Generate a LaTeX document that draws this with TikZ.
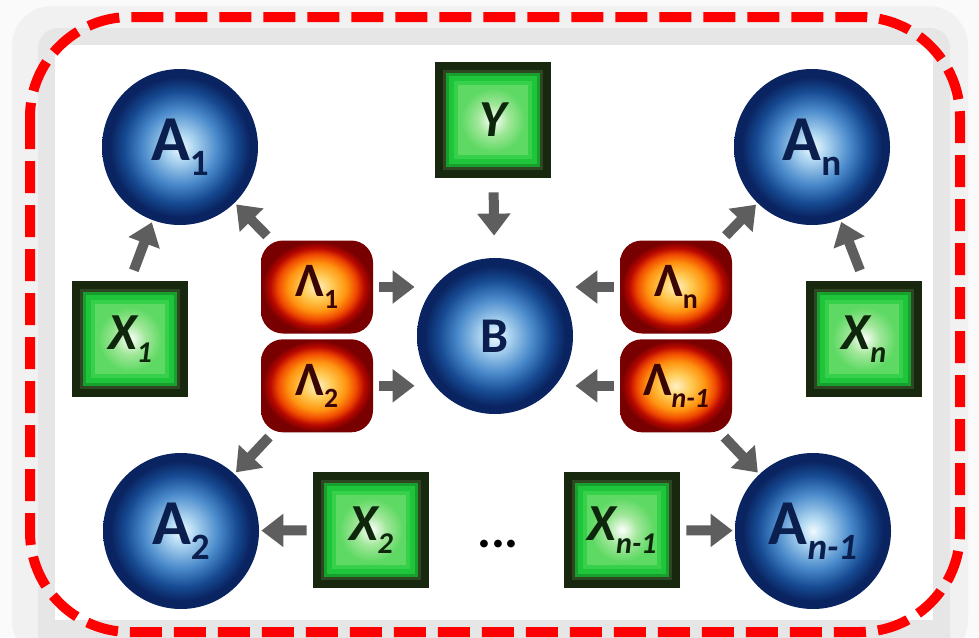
\documentclass[tikz,border=0pt]{standalone}
\usepackage{fontspec}
\setsansfont{Carlito}
\usepackage{graphicx}
\usepackage{tikz}
\usetikzlibrary{arrows.meta,positioning,calc}
\definecolor{netNavy}{HTML}{0A2461}
\definecolor{netOrbBlue}{HTML}{164A92}
\definecolor{netOrbMid}{HTML}{4A8ACB}
\definecolor{netOrbLight}{HTML}{B4DAF3}
\definecolor{netOrbCore}{HTML}{F2F9FE}
\definecolor{netOrbText}{HTML}{0B1F4F}
\definecolor{netLamDeep}{HTML}{780000}
\definecolor{netLamRed}{HTML}{B80800}
\definecolor{netLamFlame}{HTML}{F04A00}
\definecolor{netLamOrange}{HTML}{FF9410}
\definecolor{netLamGold}{HTML}{FFC850}
\definecolor{netLamCore}{HTML}{FFF1C4}
\definecolor{netLamText}{HTML}{3A0505}
\definecolor{netXDark}{HTML}{18280E}
\definecolor{netXOlive}{HTML}{2E4621}
\definecolor{netXOne}{HTML}{17A02D}
\definecolor{netXTwo}{HTML}{1EC53B}
\definecolor{netXThree}{HTML}{36D04A}
\definecolor{netXFour}{HTML}{5ED963}
\definecolor{netXLight}{HTML}{A2E79A}
\definecolor{netXText}{HTML}{0E260C}
\definecolor{netArrow}{HTML}{5E5E5E}
\definecolor{netRed}{HTML}{FF0000}
\definecolor{netShadeA}{HTML}{FAFAFA}
\definecolor{netShadeB}{HTML}{F1F1F1}
\definecolor{netShadeC}{HTML}{E6E6E6}
\pgfdeclareradialshading{netOrbShade}{\pgfpoint{0bp}{0bp}}{color(0bp)=(netOrbCore); color(4bp)=(netOrbLight); color(12bp)=(netOrbMid); color(18bp)=(netOrbBlue); color(22.5bp)=(netNavy); color(25bp)=(netNavy); color(50bp)=(netNavy)}
\pgfdeclareradialshading{netLamShade}{\pgfpoint{0bp}{0bp}}{color(0bp)=(netLamCore); color(7bp)=(netLamGold); color(13bp)=(netLamOrange); color(17.5bp)=(netLamFlame); color(21bp)=(netLamRed); color(24.5bp)=(netLamDeep); color(25bp)=(netLamDeep); color(50bp)=(netLamDeep)}
\pgfdeclareradialshading{netXShade}{\pgfpoint{0bp}{0bp}}{color(0bp)=(white); color(12bp)=(netXLight); color(25bp)=(netXFour); color(50bp)=(netXFour)}
\newcommand{\sbx}[1]{\raisebox{-0.24em}{\scalebox{0.58}{#1}}}

\begin{document}
\begin{tikzpicture}[
  x=0.5pt, y=-0.5pt,
  orb/.style   ={circle,minimum size=78pt,inner sep=0pt,shade,shading=netOrbShade,text=netOrbText,
                 font=\sffamily\bfseries\fontsize{32}{34}\selectfont},
  lambox/.style={rectangle,rounded corners=11pt,minimum width=56pt,minimum height=46.5pt,inner sep=0pt,
                 shade,shading=netLamShade,text=netLamText,font=\sffamily\bfseries\fontsize{24}{26}\selectfont},
  xbox/.style  ={rectangle,minimum size=58pt,inner sep=0pt,fill=netXDark,text=netXText,
                 font=\sffamily\bfseries\itshape\fontsize{26}{28}\selectfont,
                 path picture={
                   \fill[netXOlive] ($(path picture bounding box.south west)+(4pt,4pt)$) rectangle ($(path picture bounding box.north east)-(4pt,4pt)$);
                   \foreach \ins/\col in {5.5pt/netXOne,7pt/netXTwo,9.5pt/netXThree,11.5pt/netXFour}
                     \fill[\col] ($(path picture bounding box.south west)+(\ins,\ins)$) rectangle ($(path picture bounding box.north east)-(\ins,\ins)$);
                   \shade[shading=netXShade] ($(path picture bounding box.south west)+(13pt,13pt)$) rectangle ($(path picture bounding box.north east)-(13pt,13pt)$);
                 }},
  arrx/.style  ={-{Triangle[width=16pt,length=11pt]},draw=netArrow,line width=5pt,shorten <=3pt,shorten >=1pt}
]
\useasboundingbox (0,0) rectangle (979,637);

% backdrop and frame
\fill[netShadeA] (0,0) rectangle (979,637);
\fill[netShadeB,rounded corners=20pt] (12,6) rectangle (968,660);
\fill[netShadeC,rounded corners=10pt] (38,28) rectangle (950,660);
\fill[white] (55,45) rectangle (933,620);
\draw[netRed,line width=5pt,dash pattern=on 16pt off 6pt,rounded corners=50pt] (30,17) rectangle (960,632);

% hub and outer nodes
\node[orb,font=\sffamily\bfseries\fontsize{25}{27}\selectfont] (b) at (495,336) {B};
\node[orb] (a1) at (180,147) {A\sbx{1}};
\node[orb] (an) at (812,147) {A\sbx{n}};
\node[orb] (a2) at (181,531) {A\sbx{2}};
\node[orb] (a3) at (813,531) {A\sbx{\itshape n-1}};

% lambda pairs
\node[lambox] (l1) at (317,287) {Λ\sbx{1}};
\node[lambox,below=2.5pt of l1] (l2) {Λ\sbx{2}};
\node[lambox] (ln) at (676,287) {Λ\sbx{n}};
\node[lambox,below=2.5pt of ln] (l3) {Λ\sbx{\itshape n-1}};

% input boxes
\node[xbox] (y)  at (493,120) {Y};
\node[xbox] (x1) at (130,339) {X\sbx{1}};
\node[xbox] (xn) at (864,339) {X\sbx{n}};
\node[xbox] (x2) at (371,530) {X\sbx{2}};
\node[xbox] (x3) at (622,530) {X\sbx{n-1}};
\node[font=\sffamily\bfseries\fontsize{26}{28}\selectfont] (dots) at (498,544) {...};

% arrows into the hub
\draw[arrx,shorten <=7pt,shorten >=11pt] (y) -- (b);
\draw[arrx] (l1) -- (l1 -| b.west);
\draw[arrx] (l2) -- (l2 -| b.west);
\draw[arrx] (ln) -- (ln -| b.east);
\draw[arrx] (l3) -- (l3 -| b.east);

% arrows to the outer nodes
\draw[arrx] (l1) -- (a1);
\draw[arrx,shorten <=5.5pt] (x1.north) -- (a1);
\draw[arrx] (ln) -- (an);
\draw[arrx,shorten <=5.5pt] (xn.north) -- (an);
\draw[arrx] (l2) -- (a2);
\draw[arrx] (x2) -- (a2);
\draw[arrx] (l3) -- (a3);
\draw[arrx] (x3) -- (a3);
\end{tikzpicture}
\end{document}
